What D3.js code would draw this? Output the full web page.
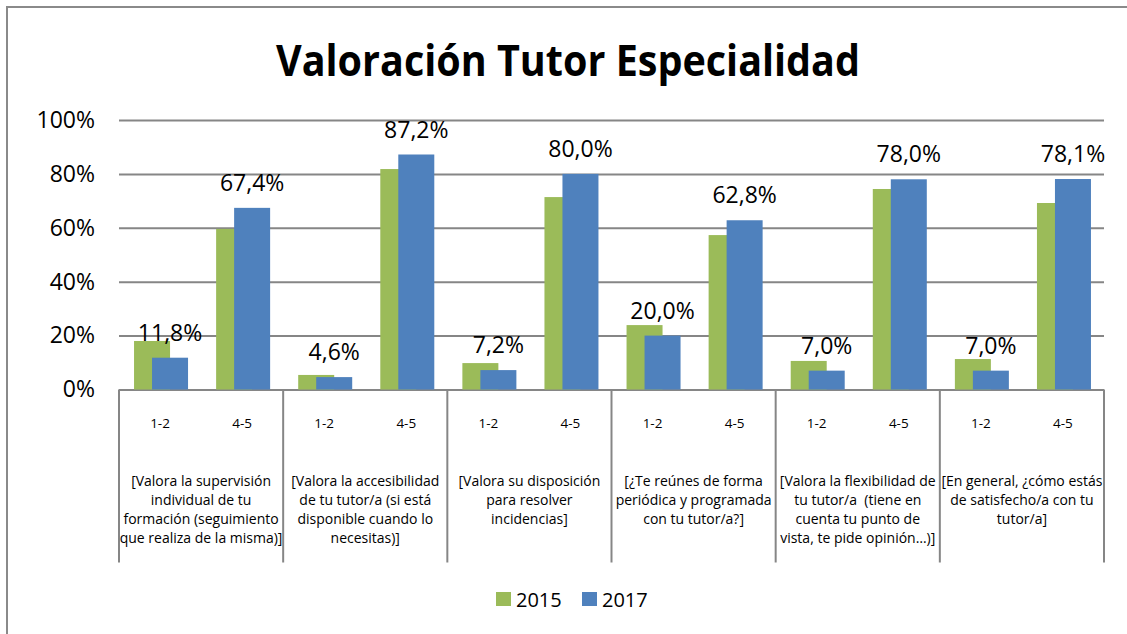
<!DOCTYPE html>
<html>
<head>
<meta charset="utf-8">
<script src="https://cdn.jsdelivr.net/npm/d3@7"></script>
<style>
  body { margin: 0; background: #fff; }
  text { font-family: "Open Sans", sans-serif; fill: #000; }
</style>
</head>
<body>
<div class="main"></div>
<script>
// Datos
const preguntas = [
  ["[Valora la supervisión", "individual de tu", "formación (seguimiento", "que realiza de la misma)]"],
  ["[Valora la accesibilidad", "de tu tutor/a (si está", "disponible cuando lo", "necesitas)]"],
  ["[Valora su disposición", "para resolver", "incidencias]"],
  ["[¿Te reúnes de forma", "periódica y programada", "con tu tutor/a?]"],
  ["[Valora la flexibilidad de", "tu tutor/a  (tiene en", "cuenta tu punto de", "vista, te pide opinión…)]"],
  ["[En general, ¿cómo estás", "de satisfecho/a con tu", "tutor/a]"]
];
const respuestas = ["1-2", "4-5"];
const series = ["2015", "2017"];
const colores = ["#9BBB59", "#4F81BD"];
// valores por pregunta: [1-2, 4-5]
const valores2015 = [[18.0, 59.6], [5.4, 81.8], [9.8, 71.4], [23.9, 57.3], [10.6, 74.4], [11.3, 69.2]];
const valores2017 = [[11.8, 67.4], [4.6, 87.2], [7.2, 80.0], [20.0, 62.8], [7.0, 78.0], [7.0, 78.1]];
const yTicks = [0, 20, 40, 60, 80, 100];

const W = 1127, H = 634;
const margin = { top: 120, right: 23, bottom: 244.5, left: 119 };
const width = W - margin.left - margin.right;
const height = H - margin.top - margin.bottom;

const svg = d3.select('.main')
  .append('svg')
    .attr('width', W)
    .attr('height', H);

// Marco del gráfico
svg.append("rect")
  .attr("x", 7).attr("y", 7)
  .attr("width", W + 10).attr("height", H + 10)
  .attr("fill", "none")
  .attr("stroke", "#8a8a8a")
  .attr("stroke-width", 2);

// Título
svg.append("text")
  .attr("x", 568).attr("y", 76)
  .attr("text-anchor", "middle")
  .attr("font-weight", "bold")
  .attr("font-size", 43)
  .attr("textLength", 584)
  .attr("lengthAdjust", "spacingAndGlyphs")
  .text("Valoración Tutor Especialidad");

const g = svg.append("g")
  .attr("transform", "translate(" + margin.left + "," + margin.top + ")");

// Escalas
const x0 = d3.scaleBand().domain(d3.range(preguntas.length)).range([0, width]);
const x1 = d3.scaleBand().domain(respuestas).range([0, x0.bandwidth()]);
const barW = 36;
const xs = d3.scalePoint().domain(series).range([-8, 10]);
const y = d3.scaleLinear().domain([0, 100]).range([height, 0]);

// Eje Y con líneas de cuadrícula
const yAxis = g.append("g")
  .call(d3.axisLeft(y).tickValues(yTicks).tickSize(-width).tickPadding(24)
    .tickFormat(d => d + "%"));
yAxis.select(".domain").remove();
yAxis.selectAll("line").attr("stroke", "#868686").attr("stroke-width", 2);
yAxis.selectAll("text").attr("font-size", 23).attr("fill", "#000")
  .attr("font-family", "Open Sans, sans-serif");

// Líneas separadoras bajo el eje
g.selectAll(".sep")
  .data(d3.range(preguntas.length + 1))
  .join("line")
    .attr("x1", i => i < preguntas.length ? x0(i) : width)
    .attr("x2", i => i < preguntas.length ? x0(i) : width)
    .attr("y1", height).attr("y2", height + 173)
    .attr("stroke", "#868686").attr("stroke-width", 2);

// Barras
const filas = [];
preguntas.forEach((p, i) => {
  respuestas.forEach((r, j) => {
    filas.push({ i: i, r: r, serie: "2015", v: valores2015[i][j] });
    filas.push({ i: i, r: r, serie: "2017", v: valores2017[i][j] });
  });
});

const centro = d => x0(d.i) + x1(d.r) + x1.bandwidth() / 2;

g.selectAll(".bar")
  .data(filas)
  .join("rect")
    .attr("x", d => centro(d) + xs(d.serie) - barW / 2)
    .attr("y", d => y(d.v))
    .attr("width", barW)
    .attr("height", d => height - y(d.v))
    .attr("fill", d => colores[series.indexOf(d.serie)]);

// Etiquetas de datos (solo 2017)
g.selectAll(".lbl")
  .data(filas.filter(d => d.serie === "2017"))
  .join("text")
    .attr("x", d => centro(d) + xs(d.serie))
    .attr("y", d => y(d.v) - 17)
    .attr("text-anchor", "middle")
    .attr("font-size", 23)
    .text(d => d.v.toFixed(1).replace(".", ",") + "%");

// Etiquetas de categorías
preguntas.forEach((p, i) => {
  respuestas.forEach(r => {
    g.append("text")
      .attr("x", x0(i) + x1(r) + x1.bandwidth() / 2)
      .attr("y", height + 38)
      .attr("text-anchor", "middle")
      .attr("font-size", 13.5)
      .text(r);
  });
  const t = g.append("text")
    .attr("text-anchor", "middle")
    .attr("font-size", 14)
    .style("white-space", "pre");
  p.forEach((linea, k) => {
    t.append("tspan")
      .attr("x", x0(i) + x0.bandwidth() / 2)
      .attr("y", height + 96 + k * 19)
      .text(linea);
  });
});

// Leyenda
const leyenda = svg.append("g").attr("transform", "translate(496,592)");
series.forEach((s, k) => {
  leyenda.append("rect")
    .attr("x", k * 86).attr("y", 0)
    .attr("width", 15).attr("height", 14)
    .attr("fill", colores[k]);
  leyenda.append("text")
    .attr("x", k * 86 + 20).attr("y", 15)
    .attr("font-size", 20)
    .text(s);
});
</script>
</body>
</html>
